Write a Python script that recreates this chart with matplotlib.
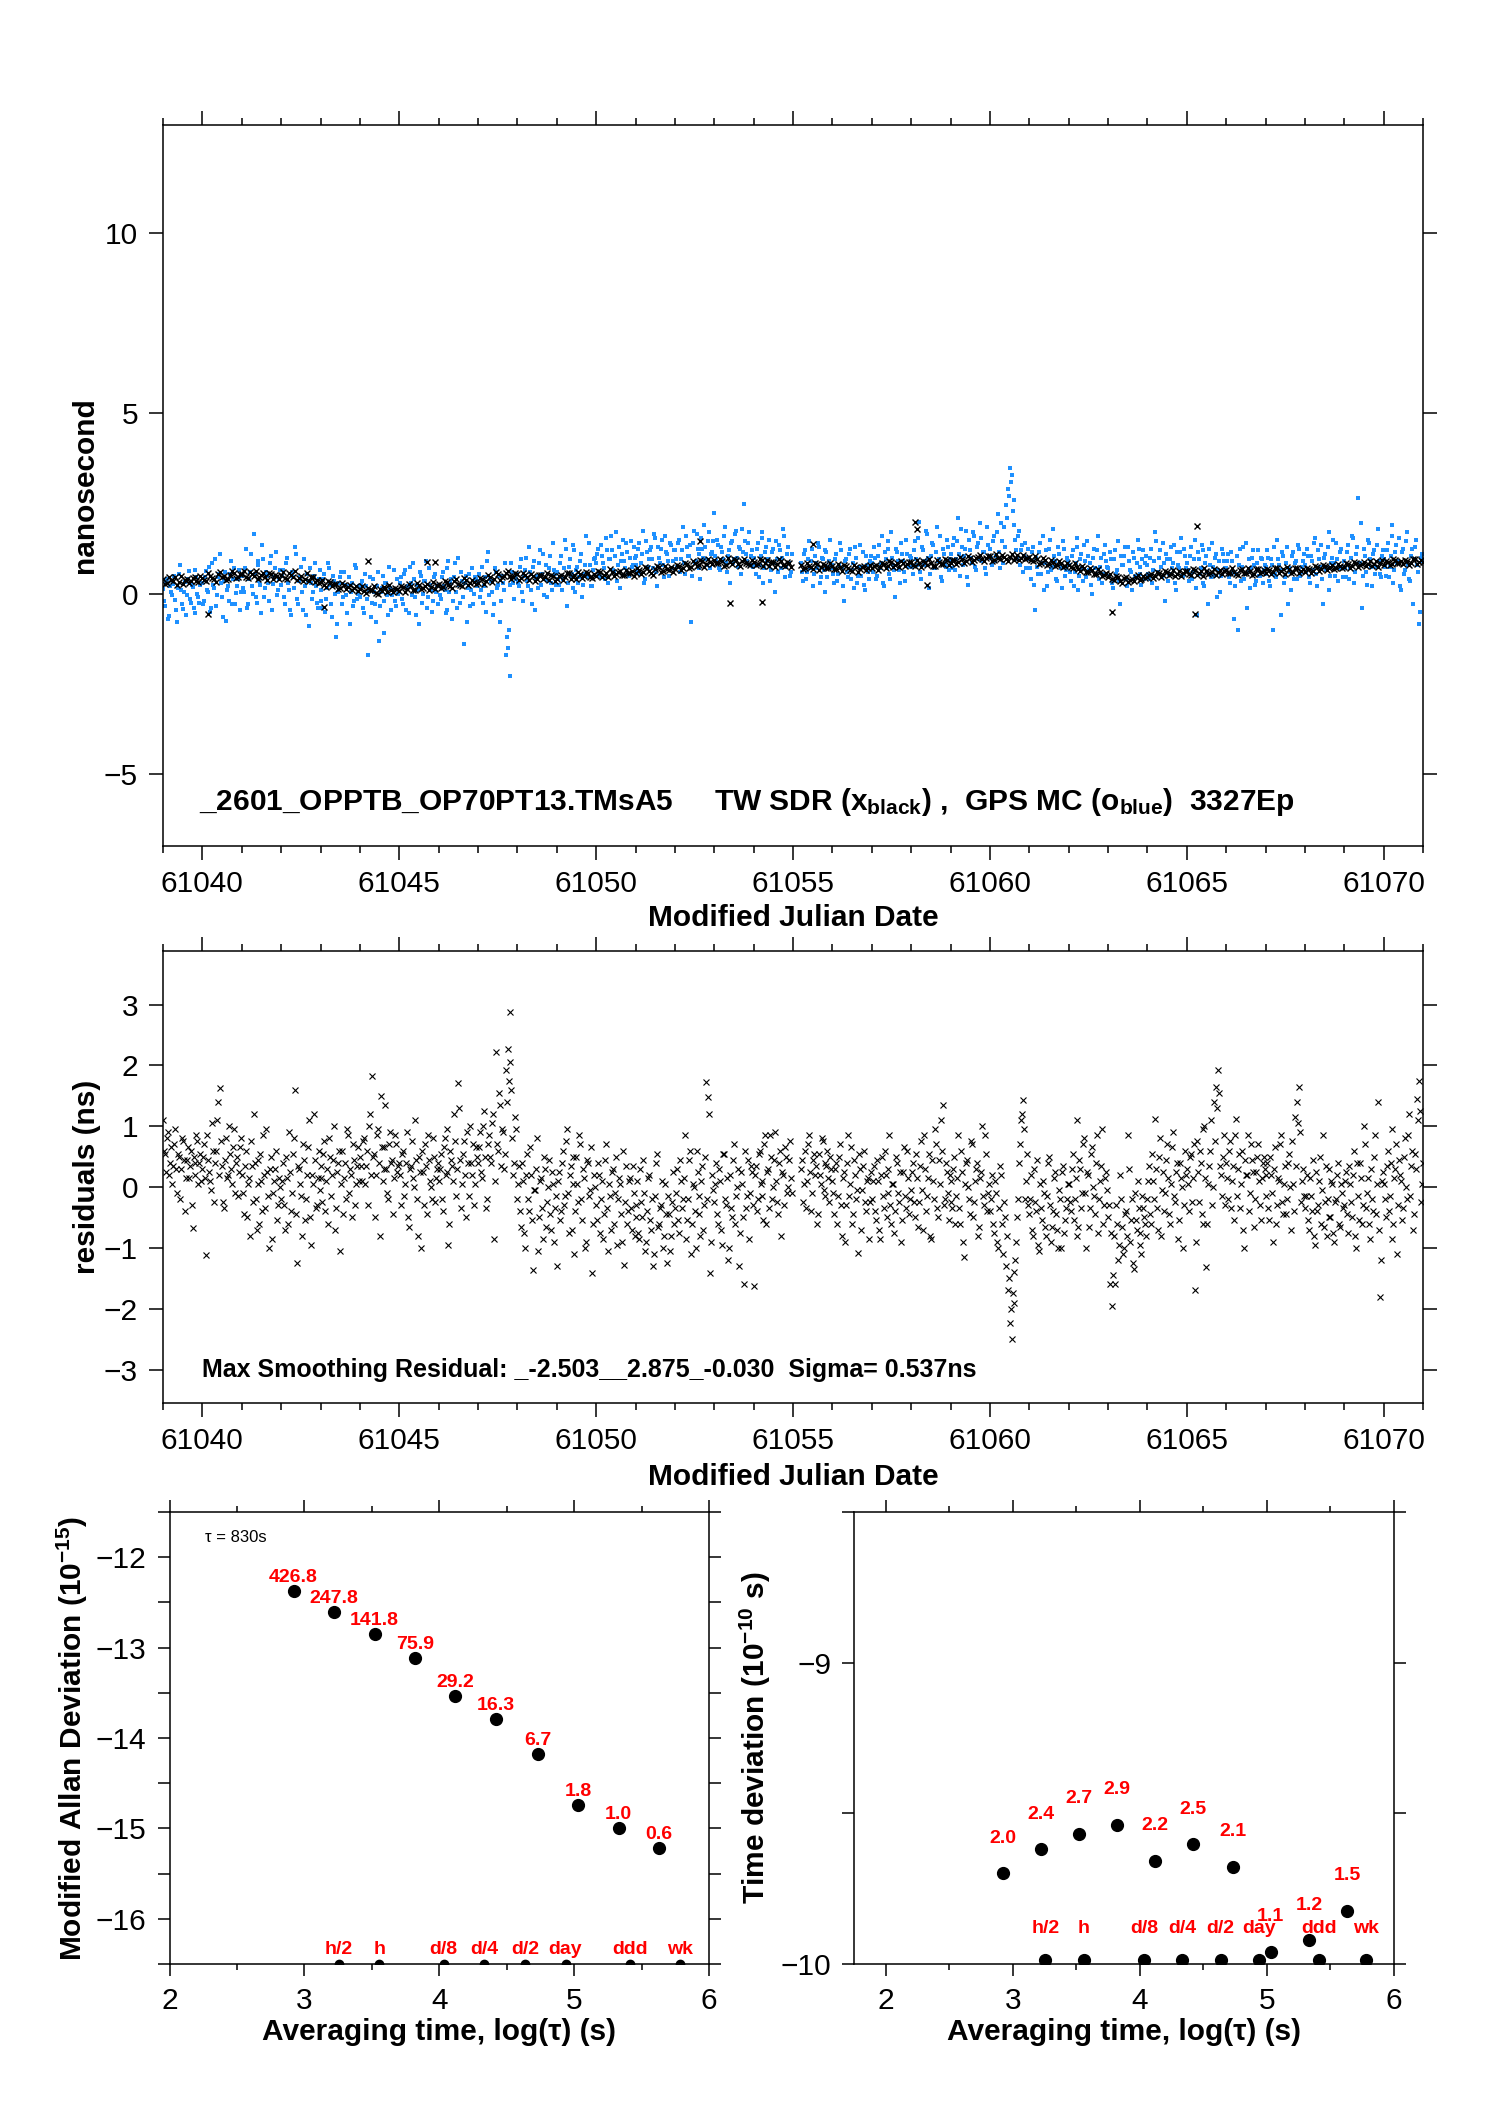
"""
Time-transfer comparison sheet: TW SDR vs GPS MC offsets, smoothing residuals,
modified Allan deviation and time deviation.  Saves out.png.
"""
import numpy as np
import matplotlib
matplotlib.use("Agg")
import matplotlib.pyplot as plt
from matplotlib.ticker import MultipleLocator

plt.rcParams['font.family'] = ['Liberation Sans', 'DejaVu Sans']
plt.rcParams['mathtext.default'] = 'regular'

NAN = float('nan')
MJD0 = 61039          # first day of every row list below

# --- top panel: TW SDR offsets (ns), one row per day, evenly spaced epochs ---
tw_rows = [
    [0.42, 0.30, 0.38, 0.47, 0.33, 0.26, 0.40, 0.35, 0.45, 0.31],   # 61039
    [0.44, 0.36, 0.50, 0.41, 0.55, 0.46, 0.38, 0.52, 0.58, 0.47],
    [0.55, 0.45, 0.60, 0.50, 0.42, 0.53, 0.47, 0.57, 0.40, 0.49],
    [0.52, 0.44, 0.58, 0.47, 0.39, 0.50, 0.42, 0.34, 0.45, 0.37],
    [0.31, 0.24, 0.36, 0.20, 0.28, 0.15, 0.25, 0.18, 0.10, 0.21],
    [0.14, 0.06, 0.17, 0.09, 0.02, 0.13, 0.19, 0.05, 0.11, 0.16],   # 61044
    [0.08, 0.18, 0.12, 0.22, 0.10, 0.25, 0.16, 0.28, 0.19, 0.13],
    [0.26, 0.18, 0.31, 0.22, 0.35, 0.27, 0.20, 0.38, 0.29, 0.33],
    [0.30, 0.42, 0.36, 0.47, 0.40, 0.55, 0.45, 0.58, 0.50, 0.46],
    [0.55, 0.44, 0.51, 0.38, 0.48, 0.42, 0.53, 0.46, 0.39, 0.49],
    [0.41, 0.52, 0.45, 0.56, 0.47, 0.40, 0.54, 0.49, 0.57, 0.44],   # 61049
    [0.50, 0.59, 0.53, 0.46, 0.61, 0.55, 0.64, 0.51, 0.58, 0.62],
    [0.56, 0.66, 0.60, 0.70, 0.58, 0.67, 0.73, 0.62, 0.69, 0.75],
    [0.68, 0.76, 0.71, 0.82, 0.74, 0.86, 0.79, 0.90, 0.83, 0.88],
    [0.94, 0.84, 0.91, 0.80, 0.88, 0.95, 0.83, 0.90, 0.86, 0.79],
    [0.89, 0.81, 0.93, 0.85, 0.78, 0.87, 0.82, 0.91, 0.76, 0.84],   # 61054
    [NAN, NAN, 0.80, 0.71, 0.77, 0.68, 0.82, 0.74, 0.79, 0.70],
    [0.76, 0.67, 0.73, 0.80, 0.70, 0.64, 0.75, 0.69, 0.78, 0.72],
    [0.70, 0.79, 0.74, 0.83, 0.77, 0.88, 0.80, 0.75, 0.86, 0.82],
    [0.87, 0.78, 0.84, 0.91, 0.80, 0.86, 0.76, 0.89, 0.83, 0.93],
    [0.85, 0.94, 0.88, 0.97, 0.90, 1.00, 0.92, 1.03, 0.95, 0.99],   # 61059
    [1.04, 0.94, 1.00, 1.08, 0.97, 1.03, 0.92, 1.06, 0.99, 0.95],
    [1.01, 0.90, 0.96, 0.86, 0.93, 0.83, 0.89, 0.79, 0.85, 0.77],
    [0.80, 0.71, 0.75, 0.64, 0.70, 0.60, 0.66, 0.55, 0.61, 0.52],
    [0.47, 0.40, 0.49, 0.36, 0.43, 0.33, 0.41, 0.46, 0.38, 0.50],
    [0.45, 0.55, 0.49, 0.58, 0.52, 0.61, 0.54, 0.48, 0.63, 0.57],   # 61064
    [0.62, 0.53, 0.66, 0.57, 0.50, 0.63, 0.56, 0.68, 0.59, 0.54],
    [0.65, 0.56, 0.61, 0.52, 0.67, 0.58, 0.64, 0.55, 0.69, 0.60],
    [0.57, 0.66, 0.60, 0.70, 0.63, 0.55, 0.67, 0.61, 0.72, 0.64],
    [0.60, 0.69, 0.64, 0.73, 0.67, 0.76, 0.70, 0.79, 0.72, 0.77],
    [0.74, 0.82, 0.76, 0.86, 0.79, 0.88, 0.81, 0.76, 0.90, 0.84],   # 61069
    [0.80, 0.89, 0.83, 0.93, 0.86, 0.81, 0.91, 0.85, 0.95, 0.88],
    [0.87],
]
# the in-between TW epochs (half a step later than the rows above)
tw_rows_b = [
    [0.28, 0.45, 0.36, 0.24, 0.48, 0.39, 0.29, 0.44, 0.34, 0.50],   # 61039
    [0.37, 0.58, 0.43, 0.33, 0.60, 0.49, 0.40, 0.62, 0.44, 0.55],
    [0.62, 0.43, 0.54, 0.64, 0.46, 0.58, 0.38, 0.55, 0.52, 0.41],
    [0.60, 0.41, 0.53, 0.63, 0.44, 0.36, 0.56, 0.46, 0.31, 0.29],
    [0.38, 0.19, 0.33, 0.26, 0.12, 0.30, 0.13, 0.24, 0.16, 0.07],
    [0.20, 0.03, 0.10, 0.22, 0.00, 0.08, 0.15, 0.23, 0.04, 0.12],   # 61044
    [0.20, 0.05, 0.26, 0.09, 0.30, 0.14, 0.21, 0.11, 0.31, 0.23],
    [0.15, 0.36, 0.24, 0.17, 0.40, 0.25, 0.43, 0.23, 0.39, 0.26],
    [0.44, 0.28, 0.52, 0.33, 0.60, 0.38, 0.50, 0.62, 0.41, 0.56],
    [0.39, 0.57, 0.47, 0.55, 0.35, 0.52, 0.40, 0.56, 0.51, 0.36],
    [0.50, 0.38, 0.58, 0.42, 0.51, 0.60, 0.43, 0.59, 0.46, 0.55],   # 61049
    [0.63, 0.45, 0.56, 0.67, 0.48, 0.60, 0.52, 0.66, 0.57, 0.50],
    [0.70, 0.55, 0.74, 0.64, 0.53, 0.76, 0.60, 0.78, 0.66, 0.61],
    [0.79, 0.65, 0.85, 0.70, 0.90, 0.77, 0.93, 0.74, 0.95, 0.81],
    [0.86, 0.97, 0.78, 1.00, 0.82, 0.93, 0.77, 0.96, 0.81, 0.92],
    [0.80, 0.95, 0.77, 0.92, 0.88, 0.74, 0.95, 0.79, 0.89, 0.73],   # 61054
    [NAN, NAN, 0.67, 0.84, 0.73, 0.86, 0.66, 0.81, 0.72, 0.85],
    [0.68, 0.81, 0.62, 0.77, 0.66, 0.80, 0.61, 0.73, 0.65, 0.79],
    [0.78, 0.66, 0.86, 0.71, 0.90, 0.73, 0.85, 0.91, 0.76, 0.89],
    [0.79, 0.93, 0.74, 0.88, 0.95, 0.77, 0.92, 0.82, 0.96, 0.80],
    [0.93, 0.81, 1.01, 0.86, 1.05, 0.89, 0.98, 1.07, 0.91, 1.04],   # 61059
    [0.91, 1.10, 0.95, 1.02, 0.90, 1.09, 0.98, 0.93, 1.06, 1.00],
    [0.92, 1.04, 0.82, 0.99, 0.80, 0.94, 0.78, 0.91, 0.74, 0.86],
    [0.74, 0.84, 0.67, 0.78, 0.59, 0.72, 0.54, 0.68, 0.49, 0.58],
    [0.54, 0.37, 0.45, 0.30, 0.47, 0.39, 0.35, 0.52, 0.42, 0.44],
    [0.53, 0.44, 0.60, 0.46, 0.63, 0.51, 0.66, 0.55, 0.50, 0.64],   # 61064
    [0.55, 0.68, 0.51, 0.62, 0.70, 0.54, 0.61, 0.52, 0.66, 0.63],
    [0.58, 0.70, 0.54, 0.66, 0.56, 0.71, 0.53, 0.68, 0.57, 0.66],
    [0.69, 0.54, 0.71, 0.57, 0.68, 0.73, 0.58, 0.70, 0.56, 0.69],
    [0.71, 0.58, 0.76, 0.62, 0.80, 0.66, 0.74, 0.68, 0.81, 0.70],
    [0.85, 0.71, 0.89, 0.74, 0.83, 0.76, 0.91, 0.82, 0.73, 0.92],   # 61069
    [0.91, 0.79, 0.96, 0.84, 0.90, 0.94, 0.80, 0.97, 0.83, 0.92],
]
# a few stray TW points away from the band
tw_odd_mjd = [61040.15, 61043.1, 61044.2, 61045.7, 61045.9, 61052.65, 61053.4, 61054.2,
              61055.5, 61058.1, 61058.15, 61058.4, 61063.1, 61065.2, 61065.27]
tw_odd_val = [-0.57, -0.37, 0.90, 0.87, 0.88, 1.45, -0.25, -0.22,
              1.38, 2.00, 1.78, 0.24, -0.52, -0.57, 1.88]

# --- top panel: GPS MC offsets (ns) ---
gps_rows = [
    [0.12, -0.35, 0.40, -0.62, 0.05, 0.28, -0.18, -0.80, 0.55, 0.10, -0.42, 0.33, -0.05, 0.62, -0.25, 0.18, -0.55, 0.45, -0.10, 0.25],
    [0.30, -0.20, 0.62, 0.05, -0.50, 0.85, 0.15, -0.35, 0.45, 1.10, -0.10, 0.35, -0.75, 0.20, 0.55, -0.28, 0.70, 0.02, 0.40, -0.45],
    [0.48, 0.05, 1.25, -0.30, 0.60, 0.20, 1.65, -0.10, 0.80, 0.35, -0.55, 0.95, 0.15, 0.50, -0.20, 1.05, 0.28, 0.70, -0.05, 0.42],
    [0.25, 0.65, -0.30, 1.00, 0.10, -0.60, 0.45, 1.30, -0.15, 0.35, 0.75, -0.45, 0.20, 0.55, -0.90, 0.30, 0.05, 0.85, -0.25, 0.40],
    [0.10, -0.40, 0.55, -0.15, 0.85, 0.25, -0.65, 0.35, -1.20, 0.05, 0.45, -0.30, 0.60, -0.05, 0.20, -0.85, 0.30, -0.20, 0.70, 0.00],
    [-0.10, 0.35, -0.55, 0.20, -1.70, 0.45, -0.25, 0.05, -0.80, 0.60, -0.35, 0.15, -1.10, 0.30, -0.05, 0.75, -0.45, 0.10, -0.20, 0.40],
    [0.05, 0.45, -0.30, 0.65, 0.15, -0.55, 0.30, 0.85, -0.10, 0.25, -0.85, 0.50, 0.00, 0.35, -0.40, 0.70, 0.10, -0.20, 0.55, 0.20],
    [0.25, -0.15, 0.60, 0.10, -0.45, 0.90, 0.30, -0.70, 0.45, 0.05, 1.00, -0.25, 0.35, -1.40, 0.50, 0.15, -0.35, 0.70, 0.00, 0.40],
    [0.35, -0.10, 0.75, 0.20, -0.50, 1.15, 0.40, 0.05, -0.30, 0.60, 0.25, -0.80, 0.50, 0.10, -1.70, -1.50, -2.28, 0.85, 0.30, 0.45],
    [0.55, 0.20, 0.95, -0.20, 0.65, 0.35, 1.30, 0.10, 0.75, -0.45, 0.50, 0.85, 0.25, 1.10, 0.40, -0.10, 0.70, 0.30, 1.40, 0.55],
    [0.60, 0.25, 1.05, 0.40, 1.50, -0.35, 0.75, 0.50, 0.15, 1.20, 0.65, 0.30, 0.90, -0.10, 0.55, 1.60, 0.45, 0.80, 0.20, 0.95],
    [0.85, 1.25, 0.45, 1.05, 0.70, 1.55, 0.30, 0.95, 1.20, 0.60, 1.70, 0.80, 0.15, 1.10, 0.90, 1.40, 0.55, 1.00, 0.75, 1.30],
    [1.05, 0.60, 1.40, 0.85, 1.75, 0.40, 1.15, 0.95, 1.30, 0.70, 1.55, 0.20, 1.00, 1.25, 0.80, 1.60, 1.10, 0.50, 1.35, 0.90],
    [1.20, 0.75, 1.50, 0.95, 1.85, 0.55, 1.30, 1.05, -0.80, 1.40, 0.85, 1.65, 1.10, 0.40, 1.25, 1.90, 0.95, 1.45, 0.70, 1.15],
    [2.24, 0.90, 1.35, 0.65, 1.15, 1.60, 0.85, 1.05, 0.30, 1.45, 0.95, 1.75, 0.75, 1.25, 1.80, 2.50, 1.10, 1.40, 0.80, 1.20],
    [1.00, 0.55, 1.40, 0.80, 1.70, 0.30, 1.15, 0.90, 1.50, 0.65, 1.25, 0.05, 0.95, 1.35, 0.70, 1.80, 0.45, 1.10, 0.85, 0.60],
    [NAN, NAN, NAN, NAN, 0.85, 0.35, 1.20, 0.60, 1.45, 0.90, 0.20, 1.05, 0.70, 1.30, 0.45, 0.95, 0.05, 1.15, 0.75, 1.50],
    [0.80, 0.30, 1.10, 0.55, 1.40, 0.70, -0.20, 0.95, 0.45, 1.25, 0.65, 0.15, 1.00, 0.50, 1.35, 0.75, 0.25, 1.05, 0.60, 0.90],
    [0.85, 1.30, 0.40, 1.05, 0.70, 1.60, 0.20, 0.95, 1.25, 0.55, 1.70, 0.80, -0.10, 1.15, 0.65, 1.40, 0.90, 0.35, 1.10, 0.75],
    [1.00, 0.55, 1.45, 0.80, 2.00, 0.40, 1.20, 0.90, 1.65, 0.15, 1.05, 1.35, 0.70, 1.85, 0.95, 0.45, 1.25, 0.85, 1.50, 0.65],
    [1.10, 0.70, 1.55, 0.95, 2.10, 0.50, 1.30, 1.05, 1.75, 0.25, 1.20, 0.85, 1.60, 0.65, 1.40, 1.95, 0.90, 1.15, 0.55, 1.35],
    [1.25, 0.80, 1.60, 1.05, 2.20, 0.70, 1.45, 1.85, 2.45, 2.90, 3.48, 3.30, 2.60, 1.50, 0.95, 1.75, 1.20, 0.60, 1.40, 1.00],
    [0.95, 0.40, 1.30, -0.45, 0.75, 1.15, 0.55, 1.60, 0.85, 0.20, 1.25, 0.65, 1.80, 0.90, 0.35, 1.10, 0.70, 1.45, 0.50, 1.00],
    [0.80, 0.35, 1.20, 0.60, 1.55, 0.10, 0.95, 0.70, 1.35, 0.45, 1.05, 0.85, 0.00, 1.25, 0.55, 1.60, 0.75, 0.30, 1.10, 0.90],
    [0.70, 1.15, 0.30, 0.95, 0.55, 1.45, -0.30, 0.80, 1.05, 0.40, 1.30, 0.65, 0.10, 1.00, 0.50, 1.50, 0.75, 0.25, 1.20, 0.85],
    [0.80, 0.40, 1.25, 0.65, 1.70, 0.15, 1.00, 0.75, 1.40, -0.20, 0.95, 0.55, 1.30, 0.85, 0.30, 1.15, 0.70, 1.55, 0.50, 1.05],
    [0.85, 0.35, 1.30, 0.60, 1.50, -0.60, 0.95, 0.70, 1.20, 0.20, 1.05, -0.30, 0.80, 1.40, 0.50, 1.10, 0.65, 0.05, 1.25, 0.90],
    [0.70, 1.10, 0.30, 0.90, -0.70, 0.55, -1.00, 1.25, 0.75, 0.40, 1.40, 0.60, 0.15, 1.00, 0.80, 0.35, 1.20, 0.50, 0.95, 0.65],
    [0.75, 1.20, 0.35, 0.95, -1.00, 0.55, 1.50, 0.80, -0.60, 1.05, 0.45, 1.30, 0.70, 0.10, 1.15, 0.85, 0.40, 1.25, 0.60, 0.90],
    [0.80, 1.25, 0.45, 1.05, 0.65, 1.55, 0.20, 0.95, 1.35, -0.30, 1.10, 0.70, 1.70, 0.50, 1.00, 0.85, 1.40, 0.35, 1.15, 0.75],
    [0.90, 0.45, 1.35, 0.70, 1.60, 0.30, 1.10, 2.65, 0.85, -0.40, 1.25, 0.60, 1.50, 0.95, 0.20, 1.20, 0.75, 1.80, 0.55, 1.05],
    [0.95, 0.50, 1.40, 0.75, 1.90, 0.30, 1.15, 0.85, 1.55, 0.10, 1.25, 0.65, 1.70, 0.40, 1.05, -0.30, 1.30, 0.80, -0.85, 1.00],
    [0.90],
]
gps_rows_b = [
    [-0.20, 0.35, -0.70, 0.20, -0.05, 0.50, -0.45, 0.15, 0.80, -0.30, 0.05, -0.60, 0.40, -0.15, 0.25, -0.40, 0.65, 0.00, -0.25, 0.30],
    [-0.30, 0.45, 0.10, 0.75, -0.40, 0.25, 0.95, -0.05, 0.55, 0.30, -0.65, 0.60, 0.10, -0.20, 0.90, 0.40, -0.30, 0.20, 0.65, 0.05],
    [0.15, 0.70, -0.40, 0.40, 1.10, 0.00, 0.55, -0.25, 0.90, 0.25, 1.35, -0.10, 0.60, 0.30, 0.85, -0.45, 0.45, 1.15, 0.10, 0.65],
    [0.50, -0.10, 0.85, 0.30, -0.45, 0.60, 0.15, 1.10, -0.30, 0.45, 0.05, 0.95, -0.60, 0.35, 0.70, -0.15, 0.50, 0.20, -0.40, 0.65],
    [-0.20, 0.40, -0.50, 0.15, 0.70, -0.30, 0.50, 0.00, -0.85, 0.30, 0.60, -0.10, 0.25, -0.55, 0.45, 0.05, -0.35, 0.80, -0.15, 0.20],
    [0.25, -0.40, 0.55, -0.15, 0.10, -0.65, 0.40, -0.30, 0.20, -1.30, 0.05, 0.50, -0.20, 0.30, -0.60, 0.15, -0.05, 0.65, -0.35, 0.00],
    [0.30, -0.15, 0.55, -0.45, 0.20, 0.75, -0.05, 0.40, -0.60, 0.10, 0.60, -0.25, 0.35, 0.90, -0.10, 0.25, -0.50, 0.45, 0.05, -0.30],
    [-0.05, 0.45, 0.20, -0.55, 0.70, 0.05, 0.40, -0.20, 0.85, -0.40, 0.25, 0.60, -0.10, 0.30, -0.80, 0.55, 0.10, -0.30, 0.45, 0.20],
    [0.55, 0.10, -0.25, 0.45, 0.90, -0.05, 0.35, -0.60, 0.70, 0.15, 0.50, -0.20, 0.30, 0.85, -1.20, -1.00, 0.25, 0.60, -0.15, 0.40],
    [0.30, 0.75, 0.05, 0.50, 1.00, 0.20, 0.60, -0.30, 0.90, 0.40, 0.15, 1.20, 0.55, -0.05, 0.80, 0.35, 1.05, 0.10, 0.65, 0.25],
    [0.40, 0.85, 0.10, 0.70, 1.25, 0.30, 0.95, 0.55, 1.35, 0.05, 0.75, 0.45, 1.10, 0.25, 0.80, 0.50, 1.40, 0.20, 0.65, 1.00],
    [1.10, 0.55, 1.35, 0.85, 0.40, 1.20, 0.95, 1.60, 0.65, 1.05, 0.35, 1.30, 0.90, 1.50, 0.70, 1.15, 0.50, 1.45, 0.80, 1.00],
    [0.80, 1.25, 0.55, 1.10, 0.30, 1.45, 0.75, 1.20, 0.95, 1.65, 0.60, 1.30, 0.85, 1.50, 0.45, 1.15, 0.90, 1.40, 0.70, 1.20],
    [0.95, 1.40, 0.60, 1.20, 0.85, 1.60, 1.05, 1.35, 0.50, 1.75, 0.90, 1.25, 0.70, 1.55, 1.00, 1.30, 0.80, 1.70, 1.10, 1.45],
    [1.05, 1.50, 0.70, 1.30, 0.95, 1.85, 0.60, 1.20, 1.40, 0.85, 1.65, 1.00, 1.30, 0.55, 1.15, 1.45, 0.90, 1.70, 1.05, 0.75],
    [0.80, 1.25, 0.45, 1.05, 1.55, 0.70, 1.30, 0.95, 0.35, 1.15, 0.85, 1.45, 0.60, 1.20, 1.00, 1.60, 0.75, 1.30, 0.50, 1.10],
    [NAN, NAN, NAN, NAN, 0.60, 1.10, 0.40, 0.95, 0.70, 1.25, 0.55, 0.85, 1.40, 0.30, 1.00, 0.65, 1.20, 0.45, 0.90, 0.70],
    [0.55, 0.95, 0.35, 0.80, 1.20, 0.20, 0.90, 0.60, 1.10, 0.40, 0.85, 1.30, 0.30, 0.75, 0.50, 1.15, 0.10, 0.80, 0.40, 1.05],
    [0.60, 1.00, 0.50, 1.35, 0.85, 0.30, 1.15, 0.70, 1.45, 0.40, 1.00, 0.65, 1.25, 0.90, 0.30, 1.10, 0.60, 1.50, 0.80, 1.05],
    [0.75, 1.20, 0.95, 1.55, 0.60, 1.30, 0.80, 1.75, 1.00, 0.55, 1.40, 0.70, 1.15, 0.90, 1.60, 0.35, 1.10, 0.75, 1.30, 0.95],
    [0.90, 1.35, 0.65, 1.45, 1.10, 1.80, 0.80, 1.25, 0.45, 1.50, 1.00, 1.70, 0.75, 1.30, 0.95, 1.55, 1.15, 0.70, 1.85, 1.05],
    [1.00, 1.45, 0.90, 1.70, 1.15, 1.95, 0.85, 1.30, 2.10, 2.70, 3.10, 2.30, 1.90, 1.20, 1.60, 0.80, 1.35, 1.05, 0.70, 1.25],
    [0.70, 1.15, 0.25, 1.00, 0.55, 1.40, 0.85, 0.10, 1.20, 0.60, 1.50, 0.75, 1.05, 0.40, 1.30, 0.80, 0.15, 1.25, 0.65, 0.90],
    [0.60, 1.05, 0.20, 0.85, 1.30, 0.50, 1.10, 0.35, 0.90, 1.45, 0.65, 0.25, 1.00, 0.70, 1.20, 0.40, 1.00, 0.55, 1.35, 0.75],
    [0.50, 0.95, 0.15, 1.20, 0.65, 0.35, 1.05, 0.80, 1.30, 0.20, 0.90, 0.60, 1.15, 0.45, 0.85, 1.25, 0.55, 0.95, 0.40, 1.05],
    [0.55, 1.00, 0.30, 0.90, 1.45, 0.60, 1.20, 0.45, 0.85, 1.10, 0.35, 0.95, 0.70, 1.35, 0.10, 0.80, 1.15, 0.50, 1.25, 0.70],
    [0.65, 1.05, 0.40, 0.95, 0.15, 1.15, 0.55, 1.35, 0.30, 0.85, 0.60, 1.25, 0.45, 0.75, 1.00, -0.10, 0.90, 0.50, 1.10, 0.70],
    [0.90, 0.45, 1.15, 0.60, 0.20, 1.05, 0.80, 0.35, 1.30, 0.55, -0.40, 0.95, 0.70, 1.20, 0.25, 0.85, 0.50, 1.00, 0.30, 0.80],
    [0.55, 1.00, 0.20, 0.80, 1.30, 0.45, 0.95, 0.65, 1.15, 0.30, 0.85, -0.30, 0.60, 1.05, 0.40, 0.90, 1.35, 0.50, 0.75, 1.10],
    [0.60, 1.05, 0.30, 0.90, 1.40, 0.55, 1.20, 0.75, 0.40, 1.00, 0.65, 1.30, 0.10, 0.85, 1.50, 0.50, 0.95, 0.70, 1.25, 0.45],
    [0.70, 1.15, 0.40, 1.00, 1.55, 0.60, 1.30, 0.85, 1.95, 0.50, 1.05, 0.25, 1.40, 0.75, 1.10, 0.55, 1.35, 0.90, 0.45, 1.20],
    [0.75, 1.20, 0.45, 1.05, 1.60, 0.65, 1.35, 0.90, 0.20, 1.15, 0.55, 1.45, 0.80, 0.35, 1.25, 0.95, 1.50, 0.60, -0.50, 1.10],
]

# --- middle panel: smoothing residuals (ns) ---
res_rows = [
    [1.10, 0.55, 0.80, 0.20, 0.65, 0.35, 0.95, -0.10, 0.50, 0.30, 0.75, -0.40, 0.45, 0.15, 0.60, -0.68, 0.40, 0.85, 0.05, 0.55],
    [0.30, 0.70, -1.11, 0.45, 0.10, 1.05, -0.25, 0.60, 1.40, 1.62, 0.35, -0.35, 0.80, 0.20, 0.55, 0.05, 0.95, 0.40, -0.15, 0.65],
    [0.20, -0.45, 0.60, 0.05, -0.80, 0.35, 1.20, -0.20, 0.45, -0.60, 0.10, 0.85, -0.35, 0.25, -1.00, 0.50, -0.10, 0.30, -0.55, 0.15],
    [-0.20, 0.40, -0.70, 0.15, 0.90, -0.40, 0.55, 1.59, -1.25, 0.30, -0.15, 0.70, -0.55, 0.20, 1.10, -0.95, 0.05, 0.45, -0.30, 0.60],
    [0.35, -0.25, 0.75, 0.10, -0.60, 0.50, 0.20, 1.00, -0.35, 0.40, -1.05, 0.60, 0.15, -0.20, 0.85, 0.30, -0.50, 0.45, 0.05, 0.65],
    [0.50, 0.10, 0.80, 0.35, -0.30, 1.20, 1.82, 0.55, 0.20, 0.95, -0.80, 0.65, 0.30, 1.35, -0.10, 0.70, 0.40, -0.45, 0.85, 0.25],
    [0.40, -0.30, 0.60, 0.05, 0.90, -0.65, 0.35, 0.15, 1.10, -0.20, 0.50, -1.00, 0.25, 0.70, -0.45, 0.45, 0.00, 0.80, -0.25, 0.30],
    [0.10, 0.55, -0.40, 0.80, 0.25, -0.95, 0.60, 0.35, 1.20, -0.15, 1.71, 0.45, 0.05, 0.75, -0.50, 0.40, 1.00, 0.20, -0.30, 0.65],
    [0.40, 0.90, 0.15, 1.25, -0.35, 0.70, 0.50, 1.05, -0.85, 2.22, 0.60, 1.35, 0.95, 0.30, 1.92, 2.27, 2.88, 1.60, 0.20, 1.15],
    [-0.20, 0.35, -0.65, 0.10, -1.00, 0.55, -0.40, 0.20, -1.36, -0.05, 0.80, -0.50, 0.15, -0.85, 0.30, -0.25, 0.45, -0.70, 0.05, -0.35],
    [-1.30, 0.25, -0.40, 0.60, -0.15, 0.95, -0.75, 0.35, 0.05, -1.10, 0.50, -0.25, 0.70, -0.55, 0.15, -0.90, 0.40, -0.05, -1.41, 0.20],
    [-0.30, 0.40, -0.75, 0.10, -0.45, 0.70, -1.05, -0.15, 0.25, -0.60, 0.50, -0.20, 0.05, -0.90, -1.28, 0.35, -0.40, 0.15, -0.70, -0.10],
    [-0.50, 0.10, -0.85, -0.25, 0.45, -1.05, -0.40, 0.20, -0.70, -1.30, -0.15, 0.55, -0.60, -0.30, -1.00, 0.05, -1.25, -0.45, -0.80, 0.25],
    [-0.35, 0.30, -0.75, 0.10, -0.20, 0.85, -0.55, 0.45, -1.10, 0.05, -0.40, 0.60, -0.15, -0.80, 0.35, -0.30, 1.73, 1.48, -1.41, 0.20],
    [-0.25, 0.40, -0.60, 0.10, -0.95, 0.55, -0.30, -1.20, 0.20, -0.50, 0.70, -0.15, 0.30, -0.75, 0.05, -1.60, -0.35, 0.45, -0.10, 0.25],
    [-1.63, 0.35, -0.20, 0.60, 0.10, -0.55, 0.85, 0.25, -0.35, 0.50, 0.00, 0.90, -0.25, 0.40, -0.80, 0.20, 0.65, -0.10, 0.45, 0.15],
    [NAN, NAN, NAN, NAN, 0.30, -0.25, 0.60, 0.10, 0.85, -0.40, 0.45, 0.20, -0.60, 0.55, 0.05, 0.75, -0.15, 0.35, 0.15, 0.50],
    [0.10, -0.45, 0.40, -0.15, 0.70, -0.80, 0.25, -0.30, 0.85, 0.05, -0.60, 0.45, -0.20, -1.08, 0.30, -0.05, 0.60, -0.40, 0.15, -0.25],
    [-0.20, 0.35, -0.55, 0.10, -0.85, 0.50, -0.35, 0.20, -0.10, 0.85, -0.60, 0.05, -0.40, 0.40, -0.25, -0.90, 0.25, -0.15, 0.60, -0.45],
    [-0.05, 0.40, -0.50, 0.15, -0.25, 0.75, -0.70, 0.30, -0.15, 0.55, -0.85, 0.10, 0.95, -0.35, 0.45, 1.10, 1.35, -0.20, 0.25, -0.55],
    [0.10, -0.35, 0.50, -0.15, 0.85, -0.60, 0.25, -1.15, 0.40, 0.00, -0.45, 0.70, -0.25, 0.30, -0.80, 0.15, 1.00, -0.30, 0.55, -0.10],
    [-0.40, 0.20, -0.75, -0.10, -1.00, 0.35, -0.60, -0.25, -1.30, -1.70, -2.24, -2.50, -1.90, -1.20, -0.50, 0.40, 1.10, 1.43, -0.20, 0.55],
    [-0.45, 0.20, -0.80, -0.25, 0.45, -1.05, -0.35, 0.10, -0.65, -0.15, 0.50, -0.90, -0.40, 0.25, -0.70, -0.05, -1.00, 0.35, -0.55, -0.20],
    [0.05, -0.40, 0.55, -0.20, 1.10, -0.65, 0.30, -0.10, 0.80, -1.00, 0.20, -0.35, 0.65, -0.15, 0.40, -0.75, 0.10, 0.95, -0.30, 0.25],
    [-0.50, -1.60, -1.95, -0.80, -0.30, -1.20, 0.20, -0.65, -1.00, -0.40, 0.85, -0.90, -0.20, -1.35, -0.55, 0.10, -0.75, -1.10, -0.35, -0.60],
    [-0.20, 0.35, -0.60, 0.10, 1.12, -0.35, 0.50, -0.80, 0.25, -0.10, 0.70, -0.45, 0.05, 0.90, -0.25, 0.40, -0.55, 0.15, -1.00, 0.60],
    [0.30, -0.40, 0.55, 0.15, -1.70, 0.75, -0.25, 0.40, -0.60, 1.00, -1.31, 0.05, 0.60, -0.30, 1.40, 1.65, 1.92, 0.35, -0.15, 0.85],
    [0.40, -0.20, 0.75, 0.10, -0.55, 1.12, 0.30, -0.35, 0.60, -1.00, 0.20, 0.85, -0.10, 0.45, -0.65, 0.25, 0.70, -0.30, 0.15, 0.50],
    [-0.15, 0.40, -0.55, 0.20, -0.90, 0.65, -0.30, 0.10, 0.85, -0.45, 0.35, -0.20, 0.55, -0.70, 0.05, 1.15, 1.40, 1.64, -0.25, 0.30],
    [-0.35, 0.20, -0.70, -0.15, 0.45, -0.95, -0.40, 0.10, -0.60, 0.85, -0.25, -0.80, 0.30, -0.50, 0.05, -0.90, -0.20, 0.40, -0.65, -0.10],
    [-0.30, 0.25, -0.75, 0.05, -0.50, 0.60, -1.00, -0.15, 0.40, -0.60, 1.00, -0.35, 0.15, -0.85, -0.20, 0.50, -0.45, 1.40, -1.81, 0.10],
    [0.05, -0.50, 0.60, -0.15, 0.95, -0.60, 0.30, -1.10, 0.45, 0.10, -0.35, 0.80, -0.20, 1.20, 0.35, -0.70, 0.55, 1.45, 1.75, -0.25],
    [0.40],
]
res_rows_b = [
    [0.60, 0.25, 0.90, 0.40, 0.05, 0.70, 0.30, 0.55, -0.20, 0.80, 0.45, 0.15, 0.65, 0.35, -0.30, 0.50, 0.20, 0.75, 0.40, 0.10],
    [0.50, 0.15, 0.85, 0.25, -0.05, 0.60, 0.40, 1.10, 0.20, 0.75, -0.25, 0.45, 0.15, 1.00, 0.30, 0.65, -0.10, 0.50, 0.25, 0.80],
    [-0.10, 0.35, -0.50, 0.15, 0.75, -0.25, 0.40, -0.70, 0.05, 0.55, -0.40, 0.20, 0.95, -0.15, 0.30, -0.85, 0.10, 0.60, -0.30, 0.00],
    [0.10, -0.30, 0.50, -0.60, 0.25, -0.10, 0.80, -0.45, 0.35, 0.05, -0.80, 0.45, -0.20, 0.65, -0.50, 0.20, 1.20, -0.35, 0.15, -0.05],
    [0.15, 0.55, -0.40, 0.30, 0.80, -0.15, 0.45, -0.70, 0.25, 0.60, 0.05, -0.45, 0.40, 0.95, -0.10, 0.20, 0.70, -0.30, 0.35, 0.10],
    [0.35, 0.75, 0.05, 0.60, 1.00, 0.20, 0.50, -0.50, 0.85, 0.40, 1.50, 0.10, 0.65, 0.30, -0.20, 0.90, 0.45, 0.15, 0.70, 0.35],
    [0.20, 0.55, -0.15, 0.40, -0.50, 0.30, 0.75, 0.00, 0.45, -0.80, 0.25, 0.60, -0.30, 0.35, 0.85, 0.10, -0.20, 0.50, 0.15, 0.40],
    [0.30, -0.20, 0.65, 0.20, 0.95, -0.60, 0.45, 0.10, 0.75, 0.30, 1.30, -0.35, 0.55, 0.20, 0.90, -0.15, 0.40, 0.70, 0.05, 0.50],
    [0.65, 0.25, 1.00, 0.50, -0.20, 0.85, 0.40, 1.20, 0.10, 0.70, 1.55, 0.35, 0.90, 0.55, 1.40, 1.75, 2.05, 0.80, 0.40, 0.95],
    [0.05, -0.40, 0.40, -0.75, 0.20, -0.20, 0.65, -0.55, -0.05, 0.30, -1.05, 0.10, -0.35, 0.50, -0.65, 0.00, -0.45, 0.25, -0.90, -0.15],
    [0.10, -0.55, 0.40, -0.30, 0.75, -0.10, 0.20, -0.70, 0.50, -0.40, 0.05, 0.85, -0.20, 0.30, -1.00, 0.45, -0.15, 0.65, -0.60, 0.00],
    [-0.55, 0.20, -0.20, -0.85, 0.45, -0.35, 0.05, -0.70, 0.30, -0.10, -0.95, 0.15, -0.45, 0.60, -0.25, -0.60, 0.10, -0.35, 0.35, -0.80],
    [-0.30, -0.75, 0.30, -0.50, -0.10, -0.90, 0.15, -0.55, -0.20, -1.10, 0.40, -0.65, -0.35, 0.10, -0.80, -0.45, -0.15, -1.05, -0.25, -0.60],
    [-0.10, -0.55, 0.45, -0.35, 0.15, -0.85, -0.20, 0.60, -0.60, 0.00, -1.00, 0.25, -0.45, 0.10, -0.70, 0.50, -0.20, 1.20, -0.90, -0.05],
    [0.05, -0.45, 0.30, -0.70, 0.55, -0.20, 0.15, -1.00, -0.35, 0.45, -0.60, 0.00, -1.30, 0.25, -0.50, 0.60, -0.15, -0.85, 0.35, -0.30],
    [0.20, -0.40, 0.55, 0.05, -0.15, 0.70, -0.60, 0.30, 0.85, -0.20, 0.45, 0.10, -0.45, 0.60, 0.25, -0.30, 0.50, 0.00, 0.75, -0.10],
    [NAN, NAN, NAN, NAN, 0.45, 0.05, -0.35, 0.70, 0.25, -0.10, 0.55, 0.35, -0.45, 0.20, 0.80, -0.05, 0.40, 0.60, -0.25, 0.30],
    [-0.10, 0.30, -0.60, 0.50, -0.30, 0.15, -0.90, 0.40, -0.15, 0.65, -0.45, 0.20, -0.05, 0.55, -0.70, 0.35, -0.25, 0.10, -0.85, 0.25],
    [0.10, -0.40, 0.45, -0.70, 0.20, -0.15, 0.60, -0.50, 0.30, -0.30, 0.05, -0.75, 0.50, -0.10, 0.25, -0.55, 0.65, -0.35, 0.15, -0.20],
    [0.25, -0.25, 0.55, -0.65, 0.35, -0.05, 0.85, -0.40, 0.15, -0.80, 0.45, -0.20, 0.70, -0.50, 0.05, 0.60, -0.30, 0.40, -0.10, 0.20],
    [-0.25, 0.30, -0.60, 0.15, -0.35, 0.60, -0.90, 0.05, 0.45, -0.20, 0.75, -0.50, 0.10, 0.40, -0.65, 0.25, -0.15, 0.85, -0.40, 0.05],
    [-0.20, -0.60, 0.10, -0.90, -0.35, 0.20, -1.10, -0.50, -0.80, -1.50, -2.00, -1.75, -1.40, -0.90, -0.20, 0.70, 1.20, 0.95, 0.10, -0.30],
    [-0.20, -0.70, 0.30, -0.40, -0.95, 0.05, -0.55, -0.10, -0.80, 0.40, -0.30, -0.65, 0.15, -0.45, -1.00, -0.20, 0.25, -0.75, -0.35, 0.05],
    [-0.25, 0.30, -0.55, 0.15, -0.80, 0.45, -0.35, 0.70, -0.10, 0.25, -0.65, 0.55, 0.00, -0.45, 0.85, -0.20, 0.35, -0.60, 0.15, -0.05],
    [-0.30, -0.75, -1.45, -1.60, -0.60, -0.95, -0.20, -1.10, -0.45, -0.80, 0.30, -0.55, -1.25, -0.10, -0.70, -0.35, -0.95, -0.15, -0.50, -0.80],
    [0.10, -0.45, 0.55, -0.20, 0.30, -0.70, 0.80, -0.05, -0.40, 0.45, 0.15, -0.60, 0.65, -0.15, 0.25, -0.85, 0.40, 0.00, -0.30, 0.20],
    [0.05, 0.50, -0.25, 0.70, -0.90, 0.25, 0.60, -0.45, 0.95, 0.15, -0.60, 0.35, 1.10, 0.00, 0.75, 1.30, 1.55, 0.20, 0.50, -0.30],
    [0.15, 0.60, -0.35, 0.35, 0.85, -0.15, 0.55, 0.05, -0.70, 0.45, 0.20, -0.40, 0.70, 0.25, -0.20, 0.50, 0.10, -0.55, 0.40, 0.30],
    [0.20, -0.35, 0.50, -0.10, 0.30, -0.60, 0.15, 0.70, -0.25, 0.05, -0.45, 0.40, 0.00, 0.75, -0.40, 0.35, 1.05, 0.90, 0.10, -0.15],
    [-0.15, -0.55, 0.15, -0.40, -0.80, 0.25, -0.30, 0.50, -0.05, -0.65, 0.35, -0.20, -0.50, 0.10, -0.75, -0.25, 0.20, -0.60, 0.05, -0.35],
    [0.10, -0.45, 0.35, -0.25, 0.20, -0.80, 0.40, -0.55, 0.15, -0.30, 0.70, -0.10, -0.60, 0.30, -0.40, 0.85, 0.05, -0.70, -1.20, 0.25],
    [-0.20, 0.35, -0.40, 0.40, -0.85, 0.15, 0.70, -0.30, 0.20, -0.55, 0.50, 0.00, 0.85, -0.15, 0.60, -0.45, 0.30, 1.10, 1.25, 0.05],
]

# --- bottom panels: stability at tau = 830 s * 2^k ---
log_tau = [2.92, 3.22, 3.52, 3.82, 4.12, 4.42, 4.73, 5.03, 5.33, 5.63]
mdev_e15 = [426.8, 247.8, 141.8, 75.9, 29.2, 16.3, 6.7, 1.8, 1.0, 0.6]     # x 1e-15
tdev_e10 = [2.0, 2.4, 2.7, 2.9, 2.2, 2.5, 2.1, 1.1, 1.2, 1.5]              # x 1e-10 s
span_names = ['h/2', 'h', 'd/8', 'd/4', 'd/2', 'day', 'ddd', 'wk']
span_sec = [1800, 3600, 10800, 21600, 43200, 86400, 259200, 604800]

TICK_FS = 21.5
LABEL_FS = 21.5
BLUE = '#1E90FF'
W, H = 1488, 2105


def unroll(rows, shift=0.0):
    """rows of per-day samples -> (mjd, value), samples evenly spread in the day"""
    t, v = [], []
    for k, row in enumerate(rows):
        for j, val in enumerate(row):
            t.append(MJD0 + k + (j + shift) / len(row))
            v.append(val)
    return np.array(t), np.array(v)


def frame(ax, xlen=10, xminlen=5, ylen=10, yminlen=None, xpad=7, ypad=8):
    for s in ax.spines.values():
        s.set_linewidth(1.1)
    ax.tick_params(which='both', direction='out', top=True, right=True,
                   width=1.1, labelsize=TICK_FS)
    ax.tick_params(axis='x', which='major', length=xlen, pad=xpad)
    ax.tick_params(axis='x', which='minor', length=xminlen)
    ax.tick_params(axis='y', which='major', length=ylen, pad=ypad)
    ax.tick_params(axis='y', which='minor', length=ylen if yminlen is None else yminlen)


def px_axes(left, top, right, bottom):
    return [left / W, 1 - bottom / H, (right - left) / W, (bottom - top) / H]


fig = plt.figure(figsize=(W / 100, H / 100), dpi=100)

# ---------------- top: offsets (blue cloud first, TW band on top) ----------------
ax1 = fig.add_axes(px_axes(163, 125, 1423, 846))
for rows, sh in ((gps_rows, 0.0), (gps_rows_b, 0.5)):
    t, v = unroll(rows, sh)
    ax1.plot(t, v, 's', color=BLUE, ms=3.1, mew=0, ls='none')
for rows, sh in ((tw_rows, 0.0), (tw_rows_b, 0.5)):
    t, v = unroll(rows, sh)
    ax1.plot(t, v, 'x', color='k', ms=5, mew=1.0, ls='none')
ax1.plot(tw_odd_mjd, tw_odd_val, 'x', color='k', ms=5, mew=1.0, ls='none')
ax1.set_xlim(61039, 61071)
ax1.set_ylim(-7, 13)
ax1.xaxis.set_major_locator(MultipleLocator(5))
ax1.xaxis.set_minor_locator(MultipleLocator(1))
ax1.yaxis.set_major_locator(MultipleLocator(5))
ax1.xaxis.get_major_formatter().set_useOffset(False)
frame(ax1)
ax1.set_ylabel('nanosecond', fontsize=LABEL_FS, fontweight='bold')
ax1.yaxis.set_label_coords(-0.0505, 0.5)
ax1.set_xlabel('Modified Julian Date', fontsize=LABEL_FS, fontweight='bold')
ax1.xaxis.set_label_coords(0.5, -0.080)
ax1.text(61039.92, -5.78,
         '_2601_OPPTB_OP70PT13.TMsA5     TW SDR (x$_{black}$) ,  GPS MC (o$_{blue}$)  3327Ep',
         fontsize=21.5, fontweight='bold', va='center', ha='left')

# ---------------- middle: residuals ----------------
ax2 = fig.add_axes(px_axes(163, 951, 1423, 1403))
for rows, sh in ((res_rows, 0.0), (res_rows_b, 0.5)):
    t, v = unroll(rows, sh)
    ax2.plot(t, v, 'x', color='k', ms=4.7, mew=0.8, ls='none')
ax2.set_xlim(61039, 61071)
ax2.set_ylim(-3.55, 3.88)
ax2.xaxis.set_major_locator(MultipleLocator(5))
ax2.xaxis.set_minor_locator(MultipleLocator(1))
ax2.yaxis.set_major_locator(MultipleLocator(1))
ax2.xaxis.get_major_formatter().set_useOffset(False)
frame(ax2)
ax2.set_ylabel('residuals (ns)', fontsize=LABEL_FS, fontweight='bold')
ax2.yaxis.set_label_coords(-0.049, 0.5)
ax2.set_xlabel('Modified Julian Date', fontsize=LABEL_FS, fontweight='bold')
ax2.xaxis.set_label_coords(0.5, -0.132)
ax2.text(61040.0, -3.0, 'Max Smoothing Residual: _-2.503__2.875_-0.030  Sigma= 0.537ns',
         fontsize=18, fontweight='bold', va='center', ha='left')

# ---------------- bottom left: modified Allan deviation ----------------
ax3 = fig.add_axes(px_axes(169.5, 1512, 709, 1964))
y_mdev = np.log10(np.array(mdev_e15) * 1e-15)
x_span = np.log10(span_sec)
ax3.plot(log_tau, y_mdev, 'o', color='k', ms=8.5, ls='none')
ax3.plot(x_span, np.full(len(span_sec), -16.5), 'o', color='k', ms=6, ls='none')
for x, y, v in zip(log_tau, y_mdev, mdev_e15):
    ax3.annotate(f'{v:.1f}', (x, y), xytext=(0, 6.5), textcoords='offset points',
                 ha='center', va='baseline', color='red', fontsize=14, fontweight='bold')
for x, name in zip(x_span, span_names):
    ax3.annotate(name, (x, -16.5), xytext=(0, 7), textcoords='offset points',
                 ha='center', va='baseline', color='red', fontsize=14, fontweight='bold')
ax3.text(2.26, -11.78, 'τ = 830s', fontsize=12, va='center', ha='left')
ax3.set_xlim(2, 6)
ax3.set_ylim(-16.5, -11.5)
ax3.xaxis.set_major_locator(MultipleLocator(1))
ax3.xaxis.set_minor_locator(MultipleLocator(0.5))
ax3.yaxis.set_major_locator(MultipleLocator(1))
ax3.yaxis.set_minor_locator(MultipleLocator(0.5))
frame(ax3, xlen=8.5, xminlen=4.5, ylen=8.5, xpad=8)
ax3.set_ylabel('Modified Allan Deviation (10$^{-15}$)', fontsize=LABEL_FS, fontweight='bold')
ax3.yaxis.set_label_coords(-0.147, 0.5)
ax3.set_xlabel('Averaging time, log(τ) (s)', fontsize=LABEL_FS, fontweight='bold')
ax3.xaxis.set_label_coords(0.5, -0.119)

# ---------------- bottom right: time deviation ----------------
ax4 = fig.add_axes(px_axes(854, 1512, 1394, 1964))
y_tdev = np.log10(np.array(tdev_e10) * 1e-10)
ax4.plot(log_tau, y_tdev, 'o', color='k', ms=8.5, ls='none')
ax4.plot(x_span, np.full(len(span_sec), -9.988), 'o', color='k', ms=8.5, ls='none')
for x, y, v in zip(log_tau, y_tdev, tdev_e10):
    ax4.annotate(f'{v:.1f}', (x, y), xytext=(0, 22), textcoords='offset points',
                 ha='center', va='baseline', color='red', fontsize=14, fontweight='bold')
for x, name in zip(x_span, span_names):
    ax4.annotate(name, (x, -10), xytext=(0, 22), textcoords='offset points',
                 ha='center', va='baseline', color='red', fontsize=14, fontweight='bold')
ax4.set_xlim(1.75, 6)
ax4.set_ylim(-10, -8.5)
ax4.xaxis.set_major_locator(MultipleLocator(1))
ax4.xaxis.set_minor_locator(MultipleLocator(0.5))
ax4.yaxis.set_major_locator(MultipleLocator(1))
ax4.yaxis.set_minor_locator(MultipleLocator(0.5))
frame(ax4, xlen=8.5, xminlen=4.5, ylen=8.5, xpad=8)
ax4.set_ylabel('Time deviation (10$^{-10}$ s)', fontsize=LABEL_FS, fontweight='bold')
ax4.yaxis.set_label_coords(-0.150, 0.5)
ax4.set_xlabel('Averaging time, log(τ) (s)', fontsize=LABEL_FS, fontweight='bold')
ax4.xaxis.set_label_coords(0.5, -0.119)

fig.savefig('out.png', dpi=100, facecolor='white')
